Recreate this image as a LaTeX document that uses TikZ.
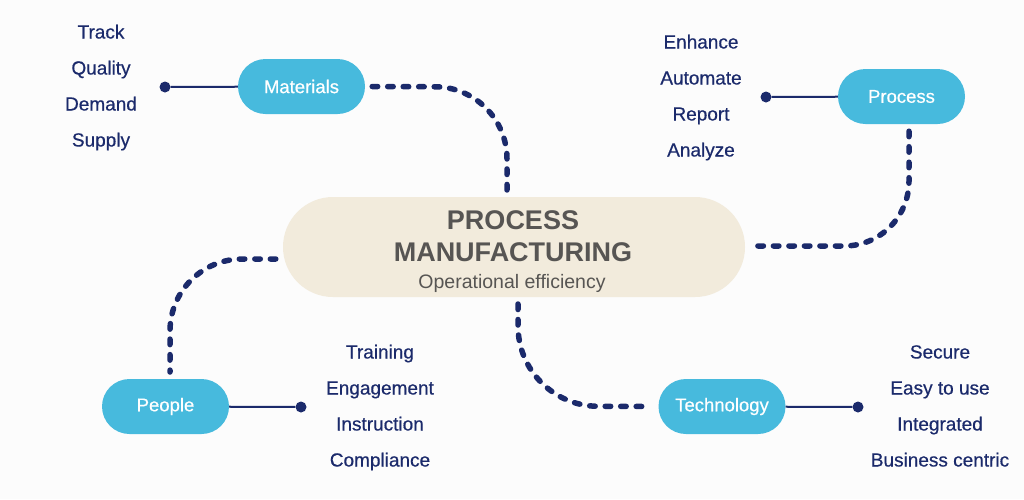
\documentclass[tikz,border=0pt]{standalone}
\usepackage{fontspec}
\setmainfont{Liberation Sans}
\newfontfamily\medfont[FakeBold=0.5]{Liberation Sans}
\definecolor{navy}{HTML}{1B2A6B}
\definecolor{pill}{HTML}{47BADD}
\definecolor{beige}{HTML}{F2EBDC}
\definecolor{txtgray}{HTML}{575553}
\definecolor{bg}{HTML}{FCFCFC}
\begin{document}
\begin{tikzpicture}[x=1pt,y=-1pt,
  pillnode/.style={fill=pill, rounded corners=27.5pt, minimum width=127pt, minimum height=55pt, inner sep=0pt, text=white, font=\medfont\fontsize{18.5}{20}\selectfont},
  item/.style={text=navy, font=\medfont\fontsize{19}{21}\selectfont, inner sep=0pt, text height=14pt, text depth=1pt, anchor=center},
  dotnode/.style={circle, fill=navy, minimum size=11pt, inner sep=0pt},
  stem/.style={draw=navy, line width=2pt},
  dotted link/.style={draw=navy, line width=5.5pt, line cap=round, dash pattern=on 5.5pt off 10pt, shorten <=7pt, shorten >=7pt}
]
\fill[bg] (0,0) rectangle (1024,499);
\useasboundingbox (0,0) rectangle (1024,499);

% central node
\node[fill=beige, rounded corners=50pt, minimum width=462pt, minimum height=100pt, inner sep=0pt] (c) at (514,247) {};
\node[text=txtgray, font=\fontsize{27}{29}\selectfont\bfseries, text height=19pt, text depth=0pt, inner sep=0pt] (t1) at (513,220) {PROCESS};
\node[text=txtgray, font=\fontsize{27}{29}\selectfont\bfseries, text height=19pt, text depth=0pt, inner sep=0pt] (t2) at (513,252) {MANUFACTURING};
\node[text=txtgray, font=\fontsize{19.5}{21}\selectfont, text height=14pt, text depth=4pt, inner sep=0pt] (t3) at (512,283) {Operational efficiency};

% pills
\node[pillnode] (mat) at (301.5,86.5) {Materials};
\node[pillnode] (proc) at (901.5,96.5) {Process};
\node[pillnode] (peo) at (165.5,406.5) {People};
\node[pillnode] (tech) at (722,406.5) {Technology};

% dots
\node[dotnode] (dm) at (165,87) {};
\node[dotnode] (dp) at (766,97) {};
\node[dotnode] (dpe) at (301,407) {};
\node[dotnode] (dt) at (858,407) {};
\draw[stem] (dm) -- (mat);
\draw[stem] (dp) -- (proc);
\draw[stem] (peo) -- (dpe);
\draw[stem] (tech) -- (dt);

% lists
\node[item] (m1) at (101,32) {Track};
\node[item] (m2) at (101,68) {Quality};
\node[item] (m3) at (101,104) {Demand};
\node[item] (m4) at (101,140) {Supply};

\node[item] (p1) at (701,42) {Enhance};
\node[item] (p2) at (701,78) {Automate};
\node[item] (p3) at (701,114) {Report};
\node[item] (p4) at (701,150) {Analyze};

\node[item] (e1) at (380,352) {Training};
\node[item] (e2) at (380,388) {Engagement};
\node[item] (e3) at (380,424) {Instruction};
\node[item] (e4) at (380,460) {Compliance};

\node[item] (s1) at (940,352) {Secure};
\node[item] (s2) at (940,388) {Easy to use};
\node[item] (s3) at (940,424) {Integrated};
\node[item] (s4) at (940,460) {Business centric};

% dotted links
\draw[dotted link, rounded corners=72pt] (mat.east) -- (507,87) -- (507,197);
\draw[dotted link, rounded corners=65pt] (proc.south -| 909,0) -- (909,246) -- (c.east |- 0,246);
\draw[dotted link, rounded corners=72pt] (c.west |- 0,259) -- (170,259) -- (170,379);
\draw[dotted link, rounded corners=80pt] (518,297) -- (518,406) -- (tech.west);
\end{tikzpicture}
\end{document}
